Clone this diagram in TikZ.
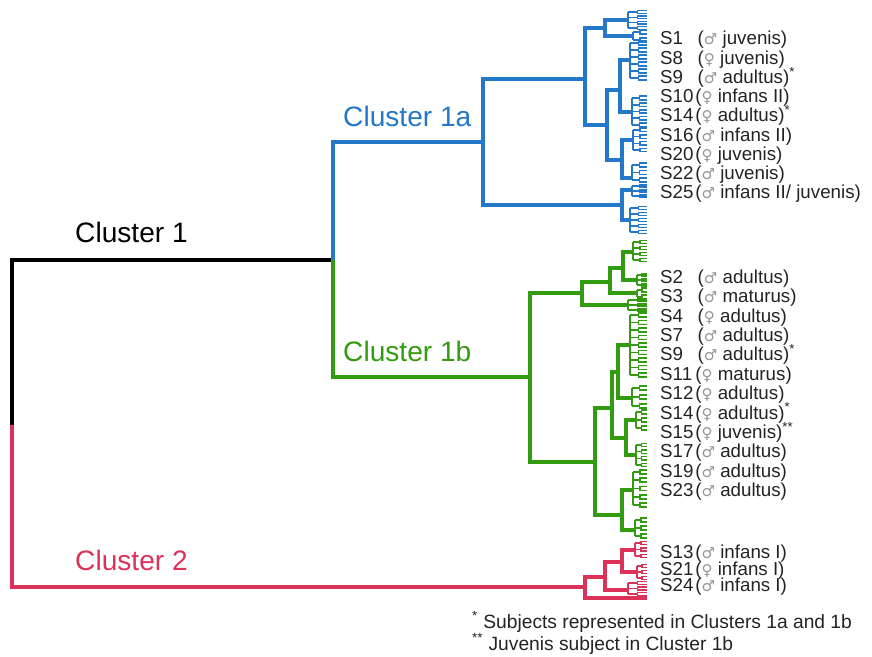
\documentclass[tikz,border=0pt]{standalone}
\usepackage{fontspec}
\setmainfont{Liberation Sans}
\newfontfamily\symfont{DejaVu Sans}
\usepackage{xcolor}
\usepackage{tikz}
\usetikzlibrary{positioning,calc}
\definecolor{clA}{RGB}{36,120,200}
\definecolor{clB}{RGB}{50,155,15}
\definecolor{clC}{RGB}{218,50,88}
\definecolor{sexgray}{RGB}{150,150,150}
\definecolor{labtext}{RGB}{35,35,35}

\newcommand{\mal}{{\symfont\color{sexgray}\scalebox{0.8}{\char"2642}}}
\newcommand{\fem}{{\symfont\color{sexgray}\scalebox{0.8}{\char"2640}}}
\def\tipx{647}
% bracket: x, top y, bottom y, top child x, bottom child x
\newcommand{\clade}[5]{\draw (#4,#2) -- (#1,#2) -- (#1,#3) -- (#5,#3);}
% bunch of small leaves between two heights
\newcommand{\comb}[4]{%
  \draw[leaf] (#1,#2) -- (#1,#3);
  \pgfmathsetmacro\cstep{(#3-#2)/(#4-1)}
  \pgfmathsetmacro\cmid{(#1+\tipx)/2}
  \foreach \k in {1,...,#4}{
    \pgfmathsetmacro\yy{#2+\cstep*(\k-1)}
    \draw[leaf] (#1,\yy) -- (\cmid,\yy) (\tipx,\yy-\cstep/4) -| (\cmid,\yy+\cstep/4) -- (\tipx,\yy+\cstep/4);
  }}

\begin{document}
\begin{tikzpicture}[
    x=0.03cm, y=-0.03cm,
    branch/.style={line width=2.6pt},
    leaf/.style={line width=1.4pt},
    clname/.style={anchor=base west,inner sep=0pt,font=\fontsize{24}{28}\selectfont},
    sname/.style={anchor=base west,inner sep=0pt,text=labtext,font=\fontsize{16}{18}\selectfont},
    footnote/.style={anchor=base west,inner sep=0pt,align=left,text=labtext,font=\fontsize{16.4}{14.4}\selectfont}
  ]
    \useasboundingbox (0,0) rectangle (872,657);

    \draw[branch] (333,260) -- (12,260) -- (12,425);
    \draw[branch,clC] (12,425) -- (12,587) -- (585,587);
    \draw[branch,clA] (333,260) -- (333,142) -- (483,142);
    \draw[branch,clB] (333,260) -- (333,377) -- (530,377);

    \node[clname] (c1) at (75,243) {Cluster 1};
    \node[clname,text=clC] (c2) at (75,570) {Cluster 2};
    \node[clname,text=clA] (c1a) at (343,127) {Cluster 1a};
    \node[clname,text=clB] (c1b) at (343,362) {Cluster 1b};

    \begin{scope}[branch,clA]
      \clade{483}{79}{205}{585}{622}
      \clade{585}{28}{125}{605}{607}
      \clade{605}{20}{36}{628}{633}
      \comb{628}{12}{28}{4}
      \comb{633}{32}{40}{2}
      \clade{607}{90}{160}{620}{622}
      \clade{620}{60}{112}{630}{632}
      \comb{630}{43}{78}{6}
      \comb{632}{98}{125}{5}
      \clade{622}{140}{178}{633}{632}
      \comb{633}{130}{150}{4}
      \comb{632}{165}{180}{3}
      \clade{622}{190}{220}{632}{630}
      \comb{632}{186}{196}{3}
      \comb{630}{208}{232}{5}
    \end{scope}

    \begin{scope}[branch,clB]
      \clade{530}{293}{462}{582}{595}
      \clade{582}{282}{305}{610}{628}
      \clade{610}{268}{293}{623}{637}
      \clade{623}{252}{280}{633}{637}
      \comb{633}{242}{260}{4}
      \comb{637}{275}{285}{3}
      \comb{637}{290}{297}{2}
      \comb{628}{300}{310}{3}
      \clade{595}{408}{515}{612}{622}
      \clade{612}{372}{438}{618}{626}
      \clade{618}{345}{398}{630}{632}
      \comb{630}{315}{375}{9}
      \comb{632}{388}{406}{3}
      \clade{626}{420}{455}{636}{636}
      \comb{636}{412}{428}{3}
      \comb{636}{445}{465}{4}
      \clade{622}{490}{530}{633}{635}
      \comb{633}{472}{505}{5}
      \comb{635}{520}{536}{3}
    \end{scope}

    \begin{scope}[branch,clC]
      \clade{585}{577}{598}{605}{647}
      \clade{605}{562}{590}{622}{628}
      \clade{622}{550}{572}{635}{637}
      \comb{635}{543}{556}{3}
      \comb{637}{566}{578}{3}
      \comb{628}{583}{594}{3}
    \end{scope}

    \foreach \nm/\bw/\sx/\tail [count=\i] in {S1/32/\mal/juvenis), S8/32/\fem/juvenis),
        S9/32/\mal/adultus)\textsuperscript{*}, S10/30/\fem/infans II),
        S14/30/\fem/adultus)\textsuperscript{*}, S16/30/\mal/infans II), S20/30/\fem/juvenis),
        S22/30/\mal/juvenis), S25/30/\mal/{infans II/ juvenis)}}
      \node[sname] (a\i) at (660,{45+19.25*(\i-1)}) {\makebox[\bw pt][l]{\nm}(\sx\ \tail};

    \foreach \nm/\bw/\sx/\tail [count=\i] in {S2/32/\mal/adultus), S3/32/\mal/maturus),
        S4/32/\fem/adultus), S7/32/\mal/adultus), S9/32/\mal/adultus)\textsuperscript{*},
        S11/30/\fem/maturus), S12/30/\fem/adultus), S14/30/\fem/adultus)\textsuperscript{*},
        S15/30/\fem/juvenis)\textsuperscript{**}, S17/30/\mal/adultus), S19/30/\mal/adultus),
        S23/30/\mal/adultus)}
      \node[sname] (b\i) at (660,{283.3+19.4*(\i-1)}) {\makebox[\bw pt][l]{\nm}(\sx\ \tail};

    \foreach \nm/\bw/\sx/\tail [count=\i] in {S13/30/\mal/infans I), S21/30/\fem/infans I),
        S24/30/\mal/infans I)}
      \node[sname] (c\i) at (660,{558.3+16.7*(\i-1)}) {\makebox[\bw pt][l]{\nm}(\sx\ \tail};

    \node[footnote] (notes) at (472,650) {\textsuperscript{*} Subjects represented in Clusters 1a and 1b\\
      \textsuperscript{**} Juvenis subject in Cluster 1b};
  \end{tikzpicture}
\end{document}
